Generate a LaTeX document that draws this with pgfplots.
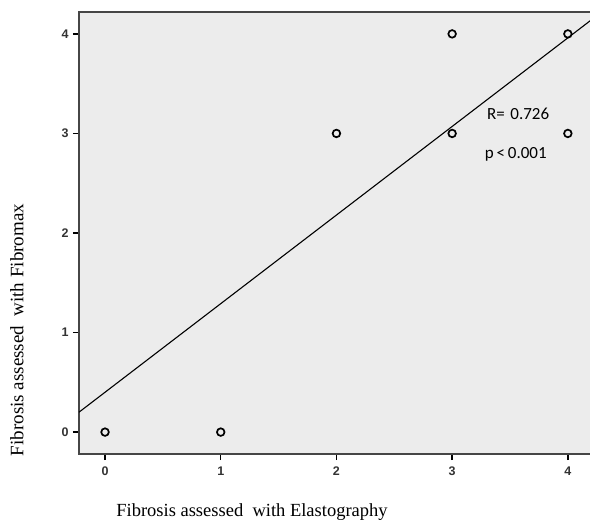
\documentclass[border=0pt]{standalone}
\usepackage{pgfplots}
\pgfplotsset{compat=1.18}
\usepackage{fontspec}
\setmainfont{Liberation Serif}
\newfontfamily\tickfont{Liberation Sans}
\newfontfamily\notefont{Carlito}
\definecolor{panel}{RGB}{236,236,236}
\definecolor{frame}{RGB}{70,70,70}
\begin{document}
\begin{tikzpicture}[x=1pt,y=1pt]
\begin{axis}[
  at={(0,0)}, anchor=south west,
  scale only axis,
  width=512pt, height=442pt,
  xmin=-0.225, xmax=4.2,
  ymin=-0.22, ymax=4.22,
  xtick={0,1,2,3,4}, ytick={0,1,2,3,4},
  xtick pos=bottom, ytick pos=left,
  tick align=outside,
  major tick length=6pt,
  tick style={black, line width=1.4pt},
  axis line style={frame, line width=1.8pt},
  axis background/.style={fill=panel},
  ticklabel style={font=\tickfont\bfseries\fontsize{12.5}{14}\selectfont, text=black!80},
  /pgf/number format/assume math mode=true,
  xticklabel style={yshift=-3pt},
  yticklabel style={xshift=-1pt},
  clip=true,
]
\addplot[black, line width=1.1pt] coordinates {(-0.225,0.2) (4.22,4.156)};
\addplot[only marks, mark=o, mark size=3.8pt, mark options={black, line width=1.7pt}]
  coordinates {(0,0) (1,0) (2,3) (3,3) (3,4) (4,4) (4,3)};
\node[font=\notefont\fontsize{17}{19}\selectfont] at (axis cs:3.57,3.2) {R=\,\,0.726};
\node[font=\notefont\fontsize{17}{19}\selectfont] at (axis cs:3.55,2.79) {p\,{<}\,0.001};
\end{axis}
\node[font=\fontsize{18.5}{20}\selectfont] at (173,-58) {Fibrosis assessed\ \ with Elastography};
\node[font=\fontsize{19}{21}\selectfont, rotate=90] at (-62,124) {Fibrosis assessed\ \ with Fibromax};
\pgfresetboundingbox
\path[use as bounding box] (-79,-69) rectangle (511,454);
\end{tikzpicture}
\end{document}
